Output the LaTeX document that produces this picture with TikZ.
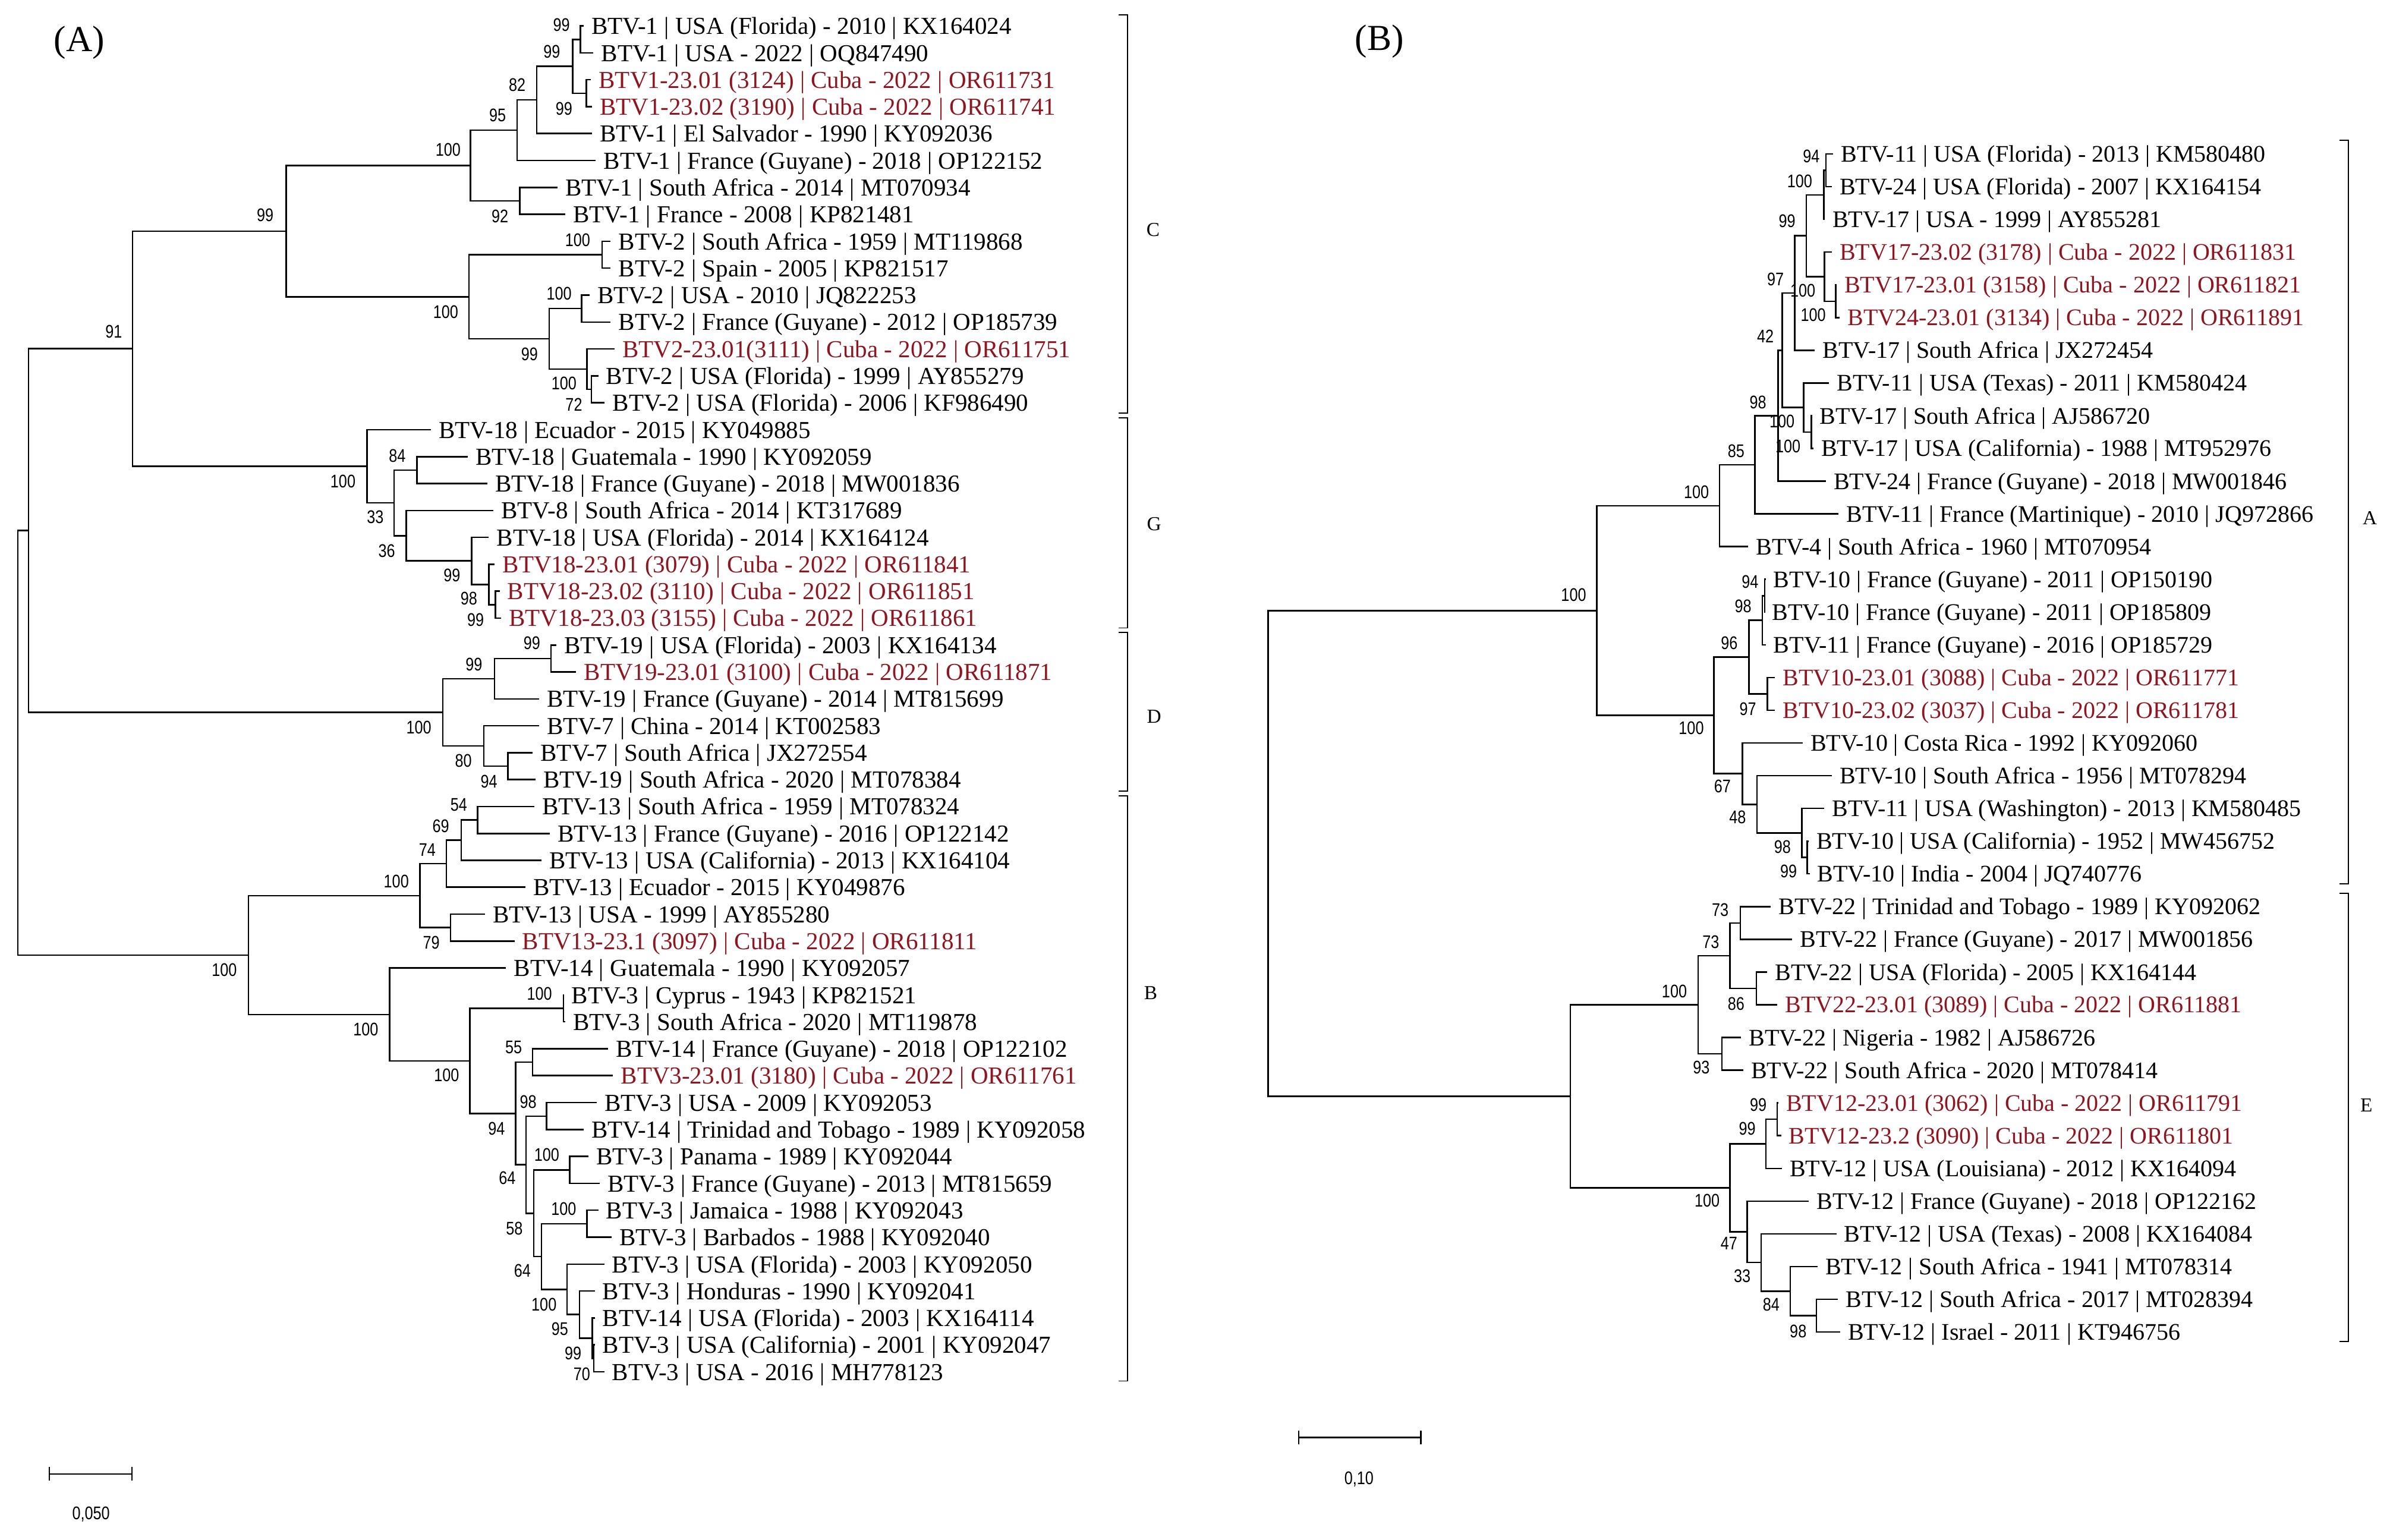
\documentclass[tikz,border=0pt]{standalone}
\usepackage{fontspec}
\setmainfont{Liberation Serif}
\newfontfamily\bootfont[FakeStretch=0.82]{Liberation Sans}
\usepackage{tikz}
\usetikzlibrary{calc,arrows.meta}
\definecolor{cuba}{RGB}{142,22,32}
\tikzstyle{branch} = [line width=1pt, black]
\tikzstyle{leaf} = [anchor=west, inner xsep=5pt, inner ysep=0pt, xshift=-5pt, text height=11pt, text depth=0pt, font=\fontsize{16}{18}\selectfont]
\tikzstyle{leafr} = [leaf, text height=10.5pt, font=\fontsize{15.6}{18}\selectfont]
\tikzstyle{boot} = [inner sep=0pt, font=\bootfont\fontsize{12}{13}\selectfont]
\tikzstyle{clade letter} = [inner sep=0pt, font=\fontsize{13}{15}\selectfont]
\tikzstyle{panel} = [inner sep=0pt, font=\fontsize{24}{26}\selectfont]
\tikzstyle{bracket} = [line width=0.7pt]
\tikzstyle{scalebar} = [line width=1pt, {Bar[width=9pt]}-{Bar[width=9pt]}]
\tikzstyle{scaletext} = [inner sep=0pt, font=\bootfont\fontsize{12}{13}\selectfont]
\newcommand{\clade}[4]{%
  \path let \p1=(#3), \p2=(#4) in ({#2pt},{0.5*\y1+0.5*\y2}) coordinate (#1);
  \draw[branch] (#1) |- (#3);
  \draw[branch] (#1) |- (#4);}
\begin{document}
\begin{tikzpicture}[x=1pt, y=-1pt]
\useasboundingbox (0,0) rectangle (1568,1010);
\fill[white] (0,0) rectangle (1568,1010);

\node (titleA) [panel] at (52,28) {(A)};
\node (titleB) [panel] at (905,27) {(B)};

% tree A
\node (L1) [leaf] at (387.8,17.0) {BTV-1 | USA (Florida) - 2010 | KX164024};
\node (L2) [leaf] at (394.3,34.7) {BTV-1 | USA - 2022 | OQ847490};
\node (L3) [leaf, text=cuba] at (392.7,52.3) {BTV1-23.01 (3124) | Cuba - 2022 | OR611731};
\node (L4) [leaf, text=cuba] at (393.3,70.0) {BTV1-23.02 (3190) | Cuba - 2022 | OR611741};
\node (L5) [leaf] at (393.3,87.6) {BTV-1 | El Salvador - 1990 | KY092036};
\node (L6) [leaf] at (395.9,105.3) {BTV-1 | France (Guyane) - 2018 | OP122152};
\node (L7) [leaf] at (370.7,123.0) {BTV-1 | South Africa - 2014 | MT070934};
\node (L8) [leaf] at (375.8,140.6) {BTV-1 | France - 2008 | KP821481};
\node (L9) [leaf] at (405.6,158.3) {BTV-2 | South Africa - 1959 | MT119868};
\node (L10) [leaf] at (405.6,175.9) {BTV-2 | Spain - 2005 | KP821517};
\node (L11) [leaf] at (391.7,193.6) {BTV-2 | USA - 2010 | JQ822253};
\node (L12) [leaf] at (405.6,211.3) {BTV-2 | France (Guyane) - 2012 | OP185739};
\node (L13) [leaf, text=cuba] at (408.2,228.9) {BTV2-23.01(3111) | Cuba - 2022 | OR611751};
\node (L14) [leaf] at (397.5,246.6) {BTV-2 | USA (Florida) - 1999 | AY855279};
\node (L15) [leaf] at (401.7,264.2) {BTV-2 | USA (Florida) - 2006 | KF986490};
\node (L16) [leaf] at (287.6,281.9) {BTV-18 | Ecuador - 2015 | KY049885};
\node (L17) [leaf] at (311.8,299.6) {BTV-18 | Guatemala - 1990 | KY092059};
\node (L18) [leaf] at (324.7,317.2) {BTV-18 | France (Guyane) - 2018 | MW001836};
\node (L19) [leaf] at (328.6,334.9) {BTV-8 | South Africa - 2014 | KT317689};
\node (L20) [leaf] at (325.7,352.5) {BTV-18 | USA (Florida) - 2014 | KX164124};
\node (L21) [leaf, text=cuba] at (329.6,370.2) {BTV18-23.01 (3079) | Cuba - 2022 | OR611841};
\node (L22) [leaf, text=cuba] at (332.8,387.9) {BTV18-23.02 (3110) | Cuba - 2022 | OR611851};
\node (L23) [leaf, text=cuba] at (333.8,405.5) {BTV18-23.03 (3155) | Cuba - 2022 | OR611861};
\node (L24) [leaf] at (370.0,423.2) {BTV-19 | USA (Florida) - 2003 | KX164134};
\node (L25) [leaf, text=cuba] at (383.0,440.8) {BTV19-23.01 (3100) | Cuba - 2022 | OR611871};
\node (L26) [leaf] at (358.7,458.5) {BTV-19 | France (Guyane) - 2014 | MT815699};
\node (L27) [leaf] at (358.7,476.2) {BTV-7 | China - 2014 | KT002583};
\node (L28) [leaf] at (354.5,493.8) {BTV-7 | South Africa | JX272554};
\node (L29) [leaf] at (356.4,511.5) {BTV-19 | South Africa - 2020 | MT078384};
\node (L30) [leaf] at (355.5,529.1) {BTV-13 | South Africa - 1959 | MT078324};
\node (L31) [leaf] at (365.8,546.8) {BTV-13 | France (Guyane) - 2016 | OP122142};
\node (L32) [leaf] at (360.3,564.5) {BTV-13 | USA (California) - 2013 | KX164104};
\node (L33) [leaf] at (349.6,582.1) {BTV-13 | Ecuador - 2015 | KY049876};
\node (L34) [leaf] at (323.1,599.8) {BTV-13 | USA - 1999 | AY855280};
\node (L35) [leaf, text=cuba] at (342.5,617.4) {BTV13-23.1 (3097) | Cuba - 2022 | OR611811};
\node (L36) [leaf] at (337.0,635.1) {BTV-14 | Guatemala - 1990 | KY092057};
\node (L37) [leaf] at (374.9,652.8) {BTV-3 | Cyprus - 1943 | KP821521};
\node (L38) [leaf] at (375.8,670.4) {BTV-3 | South Africa - 2020 | MT119878};
\node (L39) [leaf] at (404.0,688.1) {BTV-14 | France (Guyane) - 2018 | OP122102};
\node (L40) [leaf, text=cuba] at (407.2,705.7) {BTV3-23.01 (3180) | Cuba - 2022 | OR611761};
\node (L41) [leaf] at (396.5,723.4) {BTV-3 | USA - 2009 | KY092053};
\node (L42) [leaf] at (387.8,741.1) {BTV-14 | Trinidad and Tobago - 1989 | KY092058};
\node (L43) [leaf] at (391.0,758.7) {BTV-3 | Panama - 1989 | KY092044};
\node (L44) [leaf] at (398.5,776.4) {BTV-3 | France (Guyane) - 2013 | MT815659};
\node (L45) [leaf] at (397.5,794.0) {BTV-3 | Jamaica - 1988 | KY092043};
\node (L46) [leaf] at (406.2,811.7) {BTV-3 | Barbados - 1988 | KY092040};
\node (L47) [leaf] at (401.4,829.4) {BTV-3 | USA (Florida) - 2003 | KY092050};
\node (L48) [leaf] at (395.2,847.0) {BTV-3 | Honduras - 1990 | KY092041};
\node (L49) [leaf] at (395.2,864.7) {BTV-14 | USA (Florida) - 2003 | KX164114};
\node (L50) [leaf] at (395.2,882.3) {BTV-3 | USA (California) - 2001 | KY092047};
\node (L51) [leaf] at (401.4,900.0) {BTV-3 | USA - 2016 | MH778123};

\clade{c12}{380.7}{L1}{L2}
\clade{c34}{384.6}{L3}{L4}
\clade{c14}{375.8}{c12}{c34}
\clade{c15}{352.2}{c14}{L5}
\clade{c16}{339.3}{c15}{L6}
\clade{c78}{341}{L7}{L8}
\clade{c18}{308.6}{c16}{c78}
\clade{c910}{395}{L9}{L10}
\clade{c1112}{381.5}{L11}{L12}
\clade{c1415}{388}{L14}{L15}
\clade{c1315}{385}{L13}{c1415}
\clade{c1115}{360.3}{c1112}{c1315}
\clade{c915}{307.6}{c910}{c1115}
\clade{cC}{187.8}{c18}{c915}
\clade{g1718}{273.5}{L17}{L18}
\clade{g2223}{325}{L22}{L23}
\clade{g2123}{320.7}{L21}{g2223}
\clade{g2023}{309.4}{L20}{g2123}
\clade{g1923}{266.6}{L19}{g2023}
\clade{g1723}{258.6}{g1718}{g1923}
\clade{gG}{240.7}{L16}{g1723}
\clade{cCG}{87}{cC}{gG}
\clade{d2425}{361.5}{L24}{L25}
\clade{d2426}{324.5}{d2425}{L26}
\clade{d2829}{333.2}{L28}{L29}
\clade{d2729}{317.5}{L27}{d2829}
\clade{dD}{290.5}{d2426}{d2729}
\clade{cCGD}{18.7}{cCG}{dD}
\clade{b3031}{313.4}{L30}{L31}
\clade{b3032}{302.6}{b3031}{L32}
\clade{b3033}{292.8}{b3032}{L33}
\clade{b3435}{295.5}{L34}{L35}
\clade{b3035}{275.6}{b3033}{b3435}
\clade{b3738}{369.6}{L37}{L38}
\clade{b3940}{349.4}{L39}{L40}
\clade{b4142}{358.6}{L41}{L42}
\clade{b4344}{373.7}{L43}{L44}
\clade{b4546}{385}{L45}{L46}
\clade{b5051}{389.5}{L50}{L51}
\clade{b4951}{388.5}{L49}{b5051}
\clade{b4851}{380.2}{L48}{b4951}
\clade{b4751}{372}{L47}{b4851}
\clade{b4551}{355.2}{b4546}{b4751}
\clade{b4351}{350.2}{b4344}{b4551}
\clade{b4151}{345.1}{b4142}{b4351}
\clade{b3951}{338.2}{b3940}{b4151}
\clade{b3751}{308.3}{b3738}{b3951}
\clade{b3651}{255.6}{L36}{b3751}
\clade{bB}{163}{b3035}{b3651}
\clade{rootA}{11.7}{cCGD}{bB}

\node (c12b) [boot] at (368.4,16.5) {99};
\node (c14b) [boot] at (362,34) {99};
\node (c34b) [boot] at (370,71.4) {99};
\node (c15b) [boot] at (339.3,55.7) {82};
\node (c16b) [boot] at (326.4,75.7) {95};
\node (c18b) [boot] at (294,98.4) {100};
\node (c78b) [boot] at (328,141.9) {92};
\node (c910b) [boot] at (379,157.6) {100};
\node (c1112b) [boot] at (366.8,192.4) {100};
\node (c915b) [boot] at (292.4,204.6) {100};
\node (c1115b) [boot] at (347.4,232.4) {99};
\node (c1315b) [boot] at (370,251.6) {100};
\node (c1415b) [boot] at (376.5,265.5) {72};
\node (cCb) [boot] at (174,141) {99};
\node (cCGb) [boot] at (74.6,217.6) {91};
\node (gGb) [boot] at (225,315.8) {100};
\node (g1718b) [boot] at (260.6,299.1) {84};
\node (g1723b) [boot] at (246.2,339.3) {33};
\node (g1923b) [boot] at (253.7,361.4) {36};
\node (g2023b) [boot] at (296.5,377.5) {99};
\node (g2123b) [boot] at (307.6,392.8) {98};
\node (g2223b) [boot] at (312,406.7) {99};
\node (d2425b) [boot] at (349,422) {99};
\node (d2426b) [boot] at (310.9,436) {99};
\node (dDb) [boot] at (274.8,477.2) {100};
\node (d2729b) [boot] at (304,499) {80};
\node (d2829b) [boot] at (320.8,512.9) {94};
\node (b3031b) [boot] at (301,528.2) {54};
\node (b3032b) [boot] at (289.2,541.8) {69};
\node (b3033b) [boot] at (280.3,557.5) {74};
\node (b3035b) [boot] at (260,578.4) {100};
\node (b3435b) [boot] at (283,618.4) {79};
\node (bBb) [boot] at (147.2,636.2) {100};
\node (b3738b) [boot] at (353.9,651.9) {100};
\node (b3651b) [boot] at (240,675.5) {100};
\node (b3940b) [boot] at (337,687.2) {55};
\node (b3751b) [boot] at (293,705.5) {100};
\node (b4142b) [boot] at (346.5,723) {98};
\node (b3951b) [boot] at (325.8,740.3) {94};
\node (b4344b) [boot] at (358.7,757.7) {100};
\node (b4151b) [boot] at (332.8,772.8) {64};
\node (b4546b) [boot] at (369.8,793.1) {100};
\node (b4351b) [boot] at (337.5,805.9) {58};
\node (b4551b) [boot] at (342.7,833.7) {64};
\node (b4751b) [boot] at (356.9,855.7) {100};
\node (b4851b) [boot] at (367.3,872) {95};
\node (b4951b) [boot] at (376,887.9) {99};
\node (b5051b) [boot] at (381.7,901.4) {70};

\draw[bracket] (733.7,9.6) -- (739.7,9.6) -- (739.7,271) -- (733.7,271);
\draw[bracket] (733.7,274) -- (739.7,274) -- (739.7,412) -- (733.7,412);
\draw[bracket] (733.7,415) -- (739.7,415) -- (739.7,519) -- (733.7,519);
\draw[bracket] (733.7,522) -- (739.7,522) -- (739.7,906) -- (733.7,906);
\node (cladeC) [clade letter] at (756.5,150.6) {C};
\node (cladeG) [clade letter] at (757.1,343.7) {G};
\node (cladeD) [clade letter] at (757.1,470.3) {D};
\node (cladeB) [clade letter] at (754.9,651.5) {B};

\coordinate (sbA1) at (31.8,967);
\coordinate (sbA2) at (87,967);
\draw[scalebar] (sbA1) -- (sbA2);
\node (sbAtext) [scaletext] at (59.7,993.3) {0,050};

% tree B
\node (R1) [leafr] at (1207.7,101.0) {BTV-11 | USA (Florida) - 2013 | KM580480};
\node (R2) [leafr] at (1206.8,122.5) {BTV-24 | USA (Florida) - 2007 | KX164154};
\node (R3) [leafr] at (1202.1,143.9) {BTV-17 | USA - 1999 | AY855281};
\node (R4) [leafr, text=cuba] at (1206.8,165.4) {BTV17-23.02 (3178) | Cuba - 2022 | OR611831};
\node (R5) [leafr, text=cuba] at (1209.9,186.9) {BTV17-23.01 (3158) | Cuba - 2022 | OR611821};
\node (R6) [leafr, text=cuba] at (1211.9,208.4) {BTV24-23.01 (3134) | Cuba - 2022 | OR611891};
\node (R7) [leafr] at (1195.7,229.8) {BTV-17 | South Africa | JX272454};
\node (R8) [leafr] at (1204.9,251.3) {BTV-11 | USA (Texas) - 2011 | KM580424};
\node (R9) [leafr] at (1193.7,272.8) {BTV-17 | South Africa | AJ586720};
\node (R10) [leafr] at (1194.6,294.2) {BTV-17 | USA (California) - 1988 | MT952976};
\node (R11) [leafr] at (1202.9,315.7) {BTV-24 | France (Guyane) - 2018 | MW001846};
\node (R12) [leafr] at (1211.3,337.2) {BTV-11 | France (Martinique) - 2010 | JQ972866};
\node (R13) [leafr] at (1152.0,358.6) {BTV-4 | South Africa - 1960 | MT070954};
\node (R14) [leafr] at (1163.4,380.1) {BTV-10 | France (Guyane) - 2011 | OP150190};
\node (R15) [leafr] at (1162.5,401.6) {BTV-10 | France (Guyane) - 2011 | OP185809};
\node (R16) [leafr] at (1163.4,423.1) {BTV-11 | France (Guyane) - 2016 | OP185729};
\node (R17) [leafr, text=cuba] at (1169.4,444.5) {BTV10-23.01 (3088) | Cuba - 2022 | OR611771};
\node (R18) [leafr, text=cuba] at (1169.4,466.0) {BTV10-23.02 (3037) | Cuba - 2022 | OR611781};
\node (R19) [leafr] at (1187.7,487.5) {BTV-10 | Costa Rica - 1992 | KY092060};
\node (R20) [leafr] at (1206.8,508.9) {BTV-10 | South Africa - 1956 | MT078294};
\node (R21) [leafr] at (1201.9,530.4) {BTV-11 | USA (Washington) - 2013 | KM580485};
\node (R22) [leafr] at (1191.6,551.9) {BTV-10 | USA (California) - 1952 | MW456752};
\node (R23) [leafr] at (1192.2,573.3) {BTV-10 | India - 2004 | JQ740776};
\node (R24) [leafr] at (1166.8,594.8) {BTV-22 | Trinidad and Tobago - 1989 | KY092062};
\node (R25) [leafr] at (1180.7,616.3) {BTV-22 | France (Guyane) - 2017 | MW001856};
\node (R26) [leafr] at (1164.4,637.8) {BTV-22 | USA (Florida) - 2005 | KX164144};
\node (R27) [leafr, text=cuba] at (1171.1,659.2) {BTV22-23.01 (3089) | Cuba - 2022 | OR611881};
\node (R28) [leafr] at (1147.2,680.7) {BTV-22 | Nigeria - 1982 | AJ586726};
\node (R29) [leafr] at (1148.7,702.2) {BTV-22 | South Africa - 2020 | MT078414};
\node (R30) [leafr, text=cuba] at (1171.6,723.6) {BTV12-23.01 (3062) | Cuba - 2022 | OR611791};
\node (R31) [leafr, text=cuba] at (1173.5,745.1) {BTV12-23.2 (3090) | Cuba - 2022 | OR611801};
\node (R32) [leafr] at (1174.0,766.6) {BTV-12 | USA (Louisiana) - 2012 | KX164094};
\node (R33) [leafr] at (1191.7,788.0) {BTV-12 | France (Guyane) - 2018 | OP122162};
\node (R34) [leafr] at (1209.8,809.5) {BTV-12 | USA (Texas) - 2008 | KX164084};
\node (R35) [leafr] at (1197.4,831.0) {BTV-12 | South Africa - 1941 | MT078314};
\node (R36) [leafr] at (1210.8,852.5) {BTV-12 | South Africa - 2017 | MT028394};
\node (R37) [leafr] at (1212.2,873.9) {BTV-12 | Israel - 2011 | KT946756};

\clade{r12}{1198}{R1}{R2}
\clade{r13}{1196.6}{r12}{R3}
\clade{r56}{1204.3}{R5}{R6}
\clade{r46}{1197}{R4}{r56}
\clade{r16}{1185}{r13}{r46}
\clade{r17}{1177.4}{r16}{R7}
\clade{r910}{1188.4}{R9}{R10}
\clade{r810}{1183.4}{R8}{r910}
\clade{r110}{1169.2}{r17}{r810}
\clade{r111}{1166.5}{r110}{R11}
\clade{r112}{1151.4}{r111}{R12}
\clade{r113}{1128.2}{r112}{R13}
\clade{r1415}{1157.7}{R14}{R15}
\clade{r1416}{1156.2}{r1415}{R16}
\clade{r1718}{1159.4}{R17}{R18}
\clade{r1418}{1147.5}{r1416}{r1718}
\clade{r2223}{1185.6}{R22}{R23}
\clade{r2123}{1182.2}{R21}{r2223}
\clade{r2023}{1152.7}{R20}{r2123}
\clade{r1923}{1143.2}{R19}{r2023}
\clade{r1423}{1124.5}{r1418}{r1923}
\clade{rA}{1047.5}{r113}{r1423}
\clade{r2425}{1141.8}{R24}{R25}
\clade{r2627}{1152.3}{R26}{R27}
\clade{r2427}{1135}{r2425}{r2627}
\clade{r2829}{1129.6}{R28}{R29}
\clade{r2429}{1114}{r2427}{r2829}
\clade{r3031}{1166}{R30}{R31}
\clade{r3032}{1158.5}{r3031}{R32}
\clade{r3637}{1191.7}{R36}{R37}
\clade{r3537}{1174.5}{R35}{r3637}
\clade{r3437}{1155.4}{R34}{r3537}
\clade{r3337}{1146.3}{R33}{r3437}
\clade{r3037}{1135}{r3032}{r3337}
\clade{rE}{1030.2}{r2429}{r3037}
\clade{rootB}{831.9}{rA}{rE}

\node (r12b) [boot] at (1188.3,102.5) {94};
\node (r13b) [boot] at (1180.7,119) {100};
\node (r16b) [boot] at (1172.4,145.1) {99};
\node (r17b) [boot] at (1164.8,183.4) {97};
\node (r46b) [boot] at (1182.8,190.7) {100};
\node (r56b) [boot] at (1189.6,206.7) {100};
\node (r110b) [boot] at (1158.2,220.6) {42};
\node (r111b) [boot] at (1153.3,263.8) {98};
\node (r810b) [boot] at (1169.1,276.5) {100};
\node (r910b) [boot] at (1173,292.7) {100};
\node (r112b) [boot] at (1139,296) {85};
\node (r113b) [boot] at (1113,323) {100};
\node (rAb) [boot] at (1032.4,390.4) {100};
\node (r1415b) [boot] at (1148.2,381.7) {94};
\node (r1416b) [boot] at (1143.6,397.9) {98};
\node (r1418b) [boot] at (1134.5,422) {96};
\node (r1718b) [boot] at (1146.7,465) {97};
\node (r1423b) [boot] at (1109.6,477.5) {100};
\node (r1923b) [boot] at (1130,516) {67};
\node (r2023b) [boot] at (1140,536) {48};
\node (r2123b) [boot] at (1169.4,555.6) {98};
\node (r2223b) [boot] at (1173.4,571.7) {99};
\node (r2425b) [boot] at (1128.6,597) {73};
\node (r2427b) [boot] at (1122.4,618) {73};
\node (r2429b) [boot] at (1098.5,650.3) {100};
\node (r2627b) [boot] at (1139,658.5) {86};
\node (r2829b) [boot] at (1116.2,700.4) {93};
\node (r3031b) [boot] at (1153.5,724.7) {99};
\node (r3032b) [boot] at (1146.3,740.6) {99};
\node (r3037b) [boot] at (1120,787.7) {100};
\node (r3337b) [boot] at (1134.3,815.8) {47};
\node (r3437b) [boot] at (1143,837.2) {33};
\node (r3537b) [boot] at (1162,856) {84};
\node (r3637b) [boot] at (1179.7,873.3) {98};

\draw[bracket] (1534.8,92) -- (1540.8,92) -- (1540.8,580) -- (1534.8,580);
\draw[bracket] (1534.8,586) -- (1540.8,586) -- (1540.8,880) -- (1534.8,880);
\node (cladeA) [clade letter] at (1554.8,340) {A};
\node (cladeE) [clade letter] at (1552.5,725) {E};

\coordinate (sbB1) at (851.5,943);
\coordinate (sbB2) at (932.7,943);
\draw[scalebar] (sbB1) -- (sbB2);
\node (sbBtext) [scaletext] at (891.6,970.4) {0,10};
\end{tikzpicture}
\end{document}
